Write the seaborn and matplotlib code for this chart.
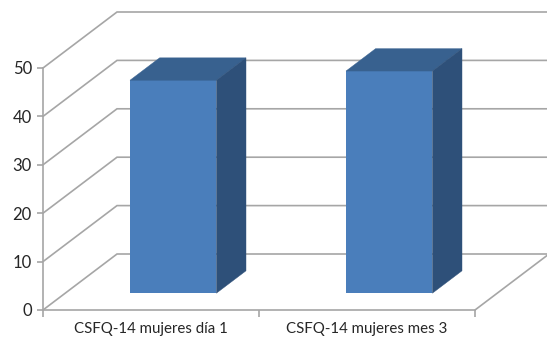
import matplotlib
matplotlib.use("Agg")
import matplotlib.pyplot as plt
from matplotlib.patches import Polygon
import seaborn as sns

# Data
categories = ["CSFQ-14 mujeres día 1", "CSFQ-14 mujeres mes 3"]
values = [44.0, 45.9]
y_ticks = [0, 10, 20, 30, 40, 50]

# Colours of the three visible faces of each box
FRONT = "#4A7EBB"
TOP = "#38618F"
SIDE = "#2E5079"
GRID = "#A6A6A6"
TEXT = "#262626"

# Depth vector of the 3D floor (pixels at 100 dpi) and the slab each bar occupies
DEPTH_PX = (74.0, 56.0)
BAR_NEAR, BAR_FAR = 0.30, 0.70

sns.set_theme(style="white")
plt.rcParams["font.family"] = ["Lato", "DejaVu Sans"]

fig = plt.figure(figsize=(5.47, 3.39), dpi=100)
W, H = 547, 339
ax = fig.add_axes([43 / W, 29 / H, 432 / W, 242 / H])

sns.barplot(x=categories, y=values, ax=ax, color=FRONT, saturation=1,
            width=0.4, edgecolor="none", zorder=3)
ax.set_xlim(-0.5, 1.5)
ax.set_ylim(0, 50)

# pixel -> data conversion for the oblique depth shift
p0 = ax.transData.transform((0, 0))
p1 = ax.transData.transform((1, 1))
ux, uy = p1[0] - p0[0], p1[1] - p0[1]


def shift(d):
    return d * DEPTH_PX[0] / ux, d * DEPTH_PX[1] / uy


# Walls: gridlines run along the left wall then across the back wall
sx, sy = shift(1.0)
for v in y_ticks:
    ax.plot([-0.5, -0.5 + sx, 1.5 + sx], [v, v + sy, v + sy], color=GRID,
            lw=1.2, clip_on=False, zorder=1, solid_joinstyle="miter")
# Floor outline on the right side
ax.plot([1.5, 1.5 + sx], [0, sy], color=GRID, lw=1.2, clip_on=False, zorder=1)

# Turn the flat bars into boxes standing inside the floor
nx, ny = shift(BAR_NEAR)
dx, dy = shift(BAR_FAR - BAR_NEAR)
for bar in list(ax.patches):
    x0, w, h = bar.get_x(), bar.get_width(), bar.get_height()
    bar.set_xy((x0 + nx, ny))
    bar.set_clip_on(False)
    xl, xr = x0 + nx, x0 + w + nx
    yb, yt = ny, h + ny
    top = Polygon([(xl, yt), (xr, yt), (xr + dx, yt + dy), (xl + dx, yt + dy)],
                  closed=True, facecolor=TOP, edgecolor=TOP, lw=0.3, zorder=3,
                  clip_on=False)
    side = Polygon([(xr, yb), (xr + dx, yb + dy), (xr + dx, yt + dy), (xr, yt)],
                   closed=True, facecolor=SIDE, edgecolor=SIDE, lw=0.3, zorder=3,
                   clip_on=False)
    ax.add_patch(top)
    ax.add_patch(side)

# Axes styling
for s in ["top", "right"]:
    ax.spines[s].set_visible(False)
for s in ["left", "bottom"]:
    ax.spines[s].set_color(GRID)
    ax.spines[s].set_linewidth(1.2)
    ax.spines[s].set_zorder(2)

ax.set_yticks(y_ticks)
ax.set_yticklabels([str(t) for t in y_ticks])
ax.tick_params(axis="y", direction="out", length=4, width=1.2, color=GRID,
               labelsize=12, labelcolor=TEXT, pad=4, left=True)
ax.set_xticks([0, 1])
ax.set_xticklabels(categories)
ax.set_xticks([-0.5, 0.5, 1.5], minor=True)
ax.tick_params(axis="x", which="major", length=0, labelsize=10.8,
               labelcolor=TEXT, pad=9)
ax.tick_params(axis="x", which="minor", direction="out", length=5, width=1.2,
               color=GRID, bottom=True)
ax.set_xlabel("")
ax.set_ylabel("")
ax.grid(False)

fig.savefig("out.png", dpi=100)
